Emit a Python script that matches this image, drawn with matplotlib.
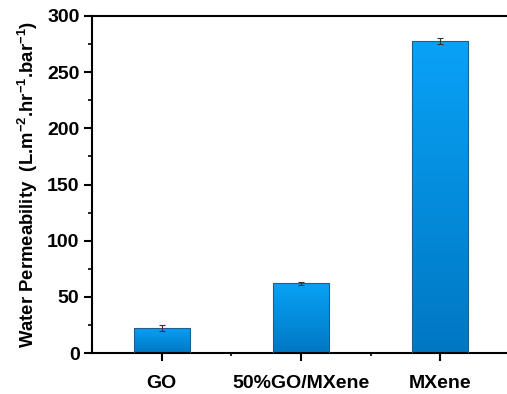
import numpy as np
import matplotlib
matplotlib.use("Agg")
import matplotlib.pyplot as plt
from matplotlib.colors import LinearSegmentedColormap
from matplotlib.ticker import MultipleLocator, FixedLocator

# data
samples = ["GO", "50%GO/MXene", "MXene"]
permeability = [22.5, 62.0, 277.5]
errors = [2.7, 1.5, 2.5]

plt.rcParams['font.family'] = ['Liberation Sans', 'DejaVu Sans']
plt.rcParams['font.weight'] = 'bold'
plt.rcParams['mathtext.fontset'] = 'custom'
plt.rcParams['mathtext.rm'] = 'Liberation Sans:bold'
plt.rcParams['mathtext.bf'] = 'Liberation Sans:bold'
plt.rcParams['mathtext.default'] = 'bf'

fig = plt.figure(figsize=(5.07, 3.94), dpi=100)
ax = fig.add_axes([92 / 507, 1 - 353 / 394, (510 - 92) / 507, 337 / 394])

x = np.arange(len(samples))
bars = ax.bar(x, permeability, width=0.4, color='none', edgecolor='#1f5f8f',
              linewidth=0.8, zorder=3)

# vertical gradient fill for each bar
cmap = LinearSegmentedColormap.from_list('blu', ['#0077c2', '#09a2f7'])
grad = np.linspace(0, 1, 256).reshape(-1, 1)
for b in bars:
    x0, y0 = b.get_x(), b.get_y()
    w, h = b.get_width(), b.get_height()
    im = ax.imshow(grad, cmap=cmap, aspect='auto', origin='lower',
                   extent=[x0, x0 + w, y0, y0 + h], zorder=2)
    im.set_clip_path(b)

ax.errorbar(x, permeability, yerr=errors, fmt='none', ecolor='#333333',
            elinewidth=0.8, capsize=2.5, capthick=0.8, zorder=4)

ax.set_xlim(-0.5, 2.5)
ax.set_ylim(0, 300)
ax.set_xticks(x)
ax.set_xticklabels(samples, fontsize=14, fontweight='bold')
ax.xaxis.set_minor_locator(FixedLocator([0.5, 1.5]))
ax.yaxis.set_major_locator(MultipleLocator(50))
ax.yaxis.set_minor_locator(MultipleLocator(25))
ax.tick_params(axis='y', labelsize=14, pad=3)
ax.tick_params(which='major', direction='out', length=6, width=1.5)
ax.tick_params(which='minor', direction='out', length=3, width=1.2)
ax.tick_params(axis='x', which='minor', length=2)
ax.tick_params(axis='x', pad=10)
for lbl in ax.get_yticklabels():
    lbl.set_fontweight('bold')

for s in ax.spines.values():
    s.set_linewidth(1.5)

ax.set_ylabel("Water Permeability  (L.m$^{-2}$.hr$^{-1}$.bar$^{-1}$)",
              fontsize=13.3, fontweight='bold', labelpad=5)

fig.savefig("out.png", dpi=100)
